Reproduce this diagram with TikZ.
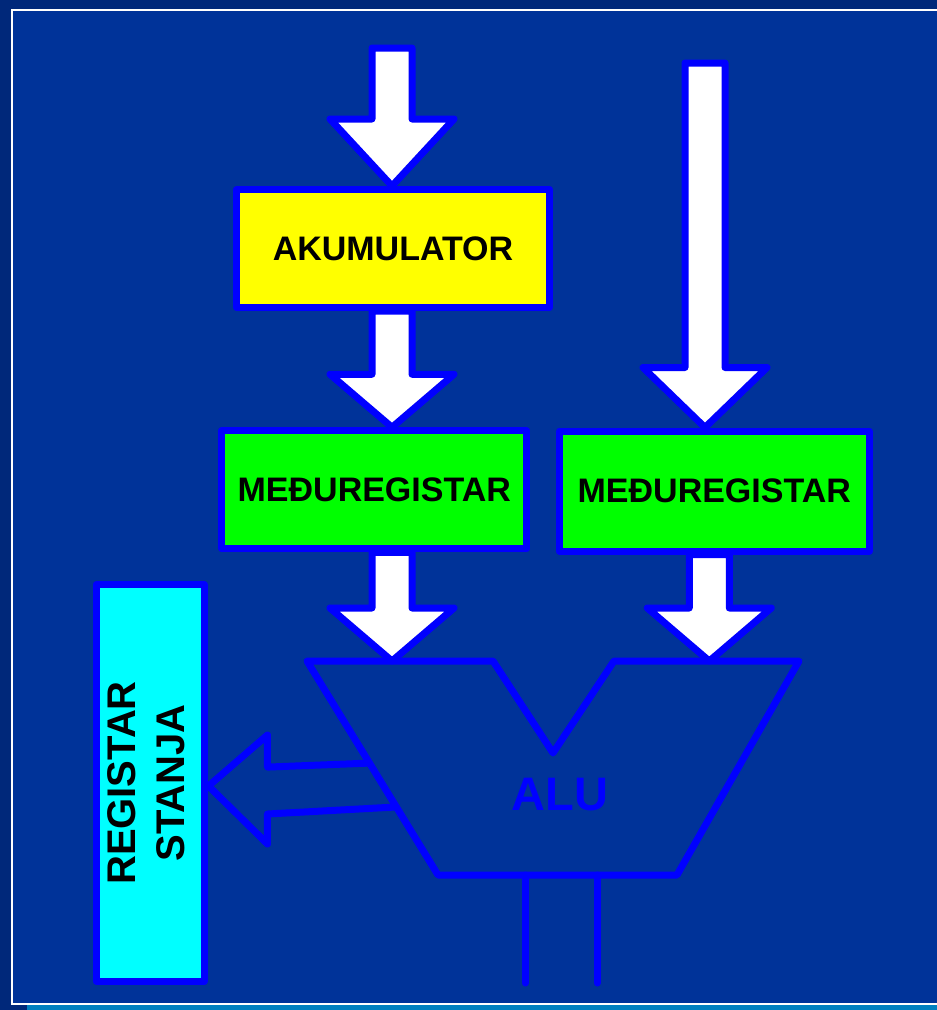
\documentclass[tikz,border=0pt]{standalone}
\usepackage{fontspec}
\usepackage{graphicx}
\setmainfont{Liberation Sans}
\usetikzlibrary{calc}

\definecolor{slideedge}{HTML}{00287A}
\definecolor{slidebg}{HTML}{003399}
\definecolor{slidestrip}{HTML}{0080C0}
\definecolor{wireblue}{HTML}{0000FF}
\definecolor{accyellow}{HTML}{FFFF00}
\definecolor{regcyan}{HTML}{00FFFF}
\definecolor{reggreen}{HTML}{00FF00}

\pgfdeclarelayer{slide}
\pgfdeclarelayer{arrows}
\pgfsetlayers{slide,arrows,main}

% block arrow pointing down: #1 top of shaft, #2 point at the level of the tip, #3 head length
\newcommand{\blockdown}[3]{%
    \draw[blockarrow] let \p1=(#1), \p2=(#2) in
        (\x1-20pt,\y1) -- (\x1-20pt,\y2+#3pt) -- (\x1-62pt,\y2+#3pt) -- (\x1,\y2)
        -- (\x1+62pt,\y2+#3pt) -- (\x1+20pt,\y2+#3pt) -- (\x1+20pt,\y1) -- cycle;}

\begin{document}
\begin{tikzpicture}[x=1pt, y=-1pt,
        regbox/.style={draw=wireblue, line width=7pt, line join=round, inner sep=0pt,
            font=\bfseries\fontsize{34}{40}\selectfont},
        blockarrow/.style={draw=wireblue, fill=white, line width=7pt, line join=round},
        wire/.style={draw=wireblue, line width=7pt, line join=round, line cap=round}
    ]
    \useasboundingbox (0,0) rectangle (937,1010);

    \begin{pgfonlayer}{slide}
        \fill[slideedge] (0,0) rectangle (937,1010);
        \fill[slidebg] (11,9) rectangle (937,1003);
        \fill[slidestrip] (27,1005) rectangle (937,1010);
        \draw[white, line width=2pt] (937,9.5) -- (11.5,9.5) -- (11.5,1003.5) -- (937,1003.5);
    \end{pgfonlayer}

    % registers
    \node[regbox, fill=accyellow, minimum width=313pt, minimum height=118pt] (akum) at (393,248.5) {AKUMULATOR};
    \node[regbox, fill=reggreen, minimum width=305pt, minimum height=118pt] (medj1) at (374.3,489.8) {MEĐUREGISTAR};
    \node[regbox, fill=reggreen, minimum width=310pt, minimum height=120pt] (medj2) at (714.3,491) {MEĐUREGISTAR};
    \node[regbox, fill=regcyan, minimum width=108pt, minimum height=397pt] (regst) at (150,783)
        {\rotatebox{90}{\fontsize{40}{49}\selectfont\begin{tabular}{@{}c@{}}REGISTAR\\STANJA\end{tabular}}};

    % ALU
    \coordinate (aluTL) at (307,661);
    \coordinate (aluNL) at (493,661);
    \coordinate (aluNB) at (553,753);
    \coordinate (aluNR) at (614,661);
    \coordinate (aluTR) at (799,661);
    \coordinate (aluBR) at (677,875);
    \coordinate (aluBL) at (438,875);
    \draw[wire] (aluTL) -- (aluNL) -- (aluNB) -- (aluNR) -- (aluTR) -- (aluBR) -- (aluBL) -- cycle;
    \node[text=wireblue, font=\bfseries\fontsize{47}{50}\selectfont] (alulabel) at (560,795) {ALU};

    % data paths
    \coordinate (in1) at (392,48);
    \coordinate (in2) at (705,63);
    \begin{pgfonlayer}{arrows}
        \blockdown{in1}{akum.north}{67}
        \blockdown{in1 |- akum.south}{medj1.north}{53}
        \blockdown{in1 |- medj1.south}{aluTL}{53}
        \blockdown{in2}{medj2.north}{60}
        \blockdown{$(medj2.south)+(-5,0)$}{aluTR}{53}
    \end{pgfonlayer}

    % flags to status register
    \draw[wire] ($(aluTL)!0.477!(aluBL)$) -- ++(-102,4) coordinate (fu) -- (fu |- 0,735)
        -- ($(regst.east)+(1,3)$) -- (fu |- 0,844) -- (fu |- 0,814) -- ($(aluTL)!0.682!(aluBL)$);

    % outputs
    \coordinate (out1) at (525,983);
    \coordinate (out2) at (597,983);
    \draw[wire] (out1 |- aluBL) -- (out1);
    \draw[wire] (out2 |- aluBL) -- (out2);
\end{tikzpicture}
\end{document}
